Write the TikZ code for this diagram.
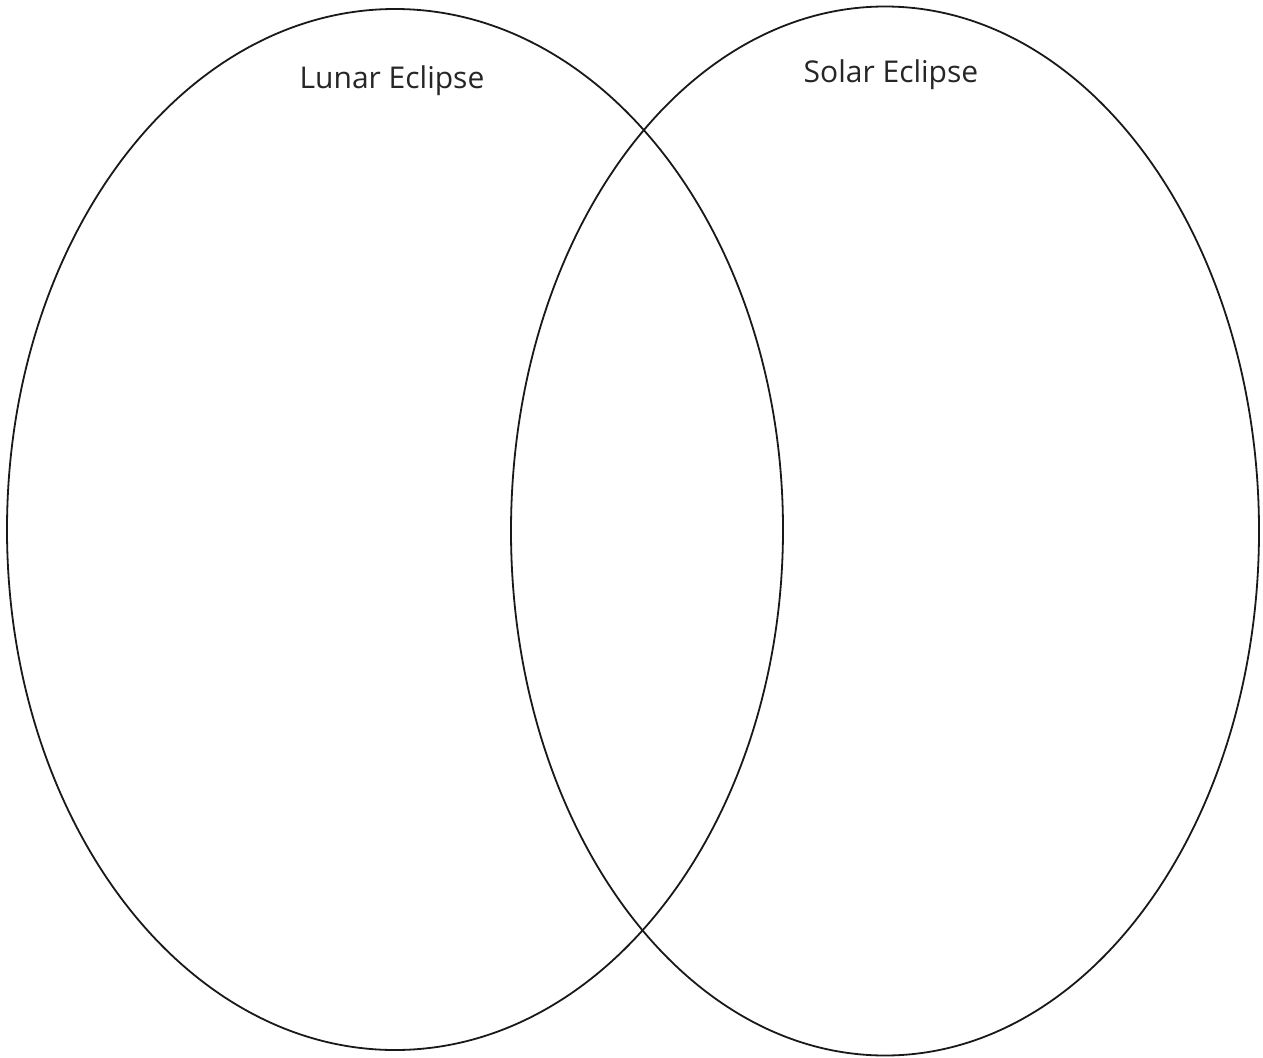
\documentclass[tikz,border=0pt]{standalone}
\usepackage{fontspec}
\setmainfont{Open Sans}
\begin{document}
\begin{tikzpicture}[x=1pt,y=-1pt,
  ring/.style={draw=black!90,line width=1.8pt},
  lbl/.style={font=\fontsize{30}{34}\selectfont,text=black!85,inner sep=0pt}]
\useasboundingbox (0,0) rectangle (1263,1057);
\fill[white] (0,0) rectangle (1263,1057);
\draw[ring] (395,529.5) ellipse [x radius=388, y radius=520.5];
\draw[ring] (885,531) ellipse [x radius=374, y radius=524.5];
\node[lbl] (lunar) at (392,81) {Lunar Eclipse};
\node[lbl] (solar) at (891,75) {Solar Eclipse};
\end{tikzpicture}
\end{document}
